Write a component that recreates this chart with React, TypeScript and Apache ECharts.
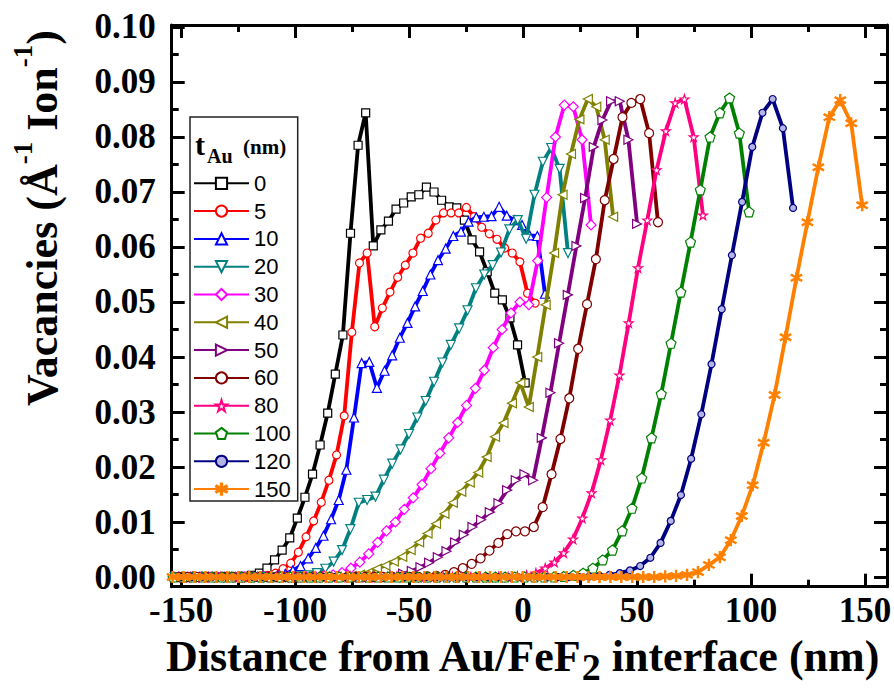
import React, { useEffect, useRef } from 'react';
import * as echarts from 'echarts';

// ---- data ----
const thicknessNames = ['0', '5', '10', '20', '30', '40', '50', '60', '80', '100', '120', '150'];

// first x (nm) and bin width (nm) of every profile
const xStarts = [-152.28, -152.15, -151.2, -152.8, -153.5, -152.9, -151.4, -150.9, -153.1, -153.4, -149.8, -153.7];
const xSteps = [3.33, 3.35, 3.35, 3.67, 3.9, 3.7, 3.8, 3.89, 4.07, 4.28, 4.47, 4.8];

const yT0 = [
  0, 0, 0, 0, 0, 0, 0, 0, 0,
  0.0001, 0.0003, 0.0007, 0.0016, 0.0031, 0.0049, 0.0071, 0.0107, 0.0145, 0.0187,
  0.0240, 0.0298, 0.0369, 0.0440, 0.0625, 0.0785, 0.0844, 0.0602, 0.0631, 0.0647,
  0.0669, 0.0680, 0.0691, 0.0695, 0.0709, 0.0700, 0.0685, 0.0673, 0.0671, 0.0649,
  0.0613, 0.0591, 0.0555, 0.0516, 0.0504, 0.0471, 0.0422, 0.0353,
];
const yT5 = [
  0, 0, 0, 0, 0, 0, 0, 0, 0, 0, 0,
  0.0001, 0.0003, 0.0007, 0.0015, 0.0025, 0.0045, 0.0073, 0.0102, 0.0136, 0.0176,
  0.0222, 0.0293, 0.0445, 0.0571, 0.0589, 0.0455, 0.0489, 0.0518, 0.0545, 0.0567,
  0.0589, 0.0616, 0.0625, 0.0649, 0.0662, 0.0662, 0.0662, 0.0672, 0.0655, 0.0636,
  0.0624, 0.0614, 0.0598, 0.0589, 0.0573, 0.0516, 0.0498,
];
const yT10 = [
  0, 0, 0, 0, 0, 0, 0, 0, 0, 0, 0, 0,
  0.0001, 0.0003, 0.0006, 0.0012, 0.0020, 0.0034, 0.0053, 0.0075, 0.0105, 0.0140,
  0.0195, 0.0290, 0.0389, 0.0391, 0.0344, 0.0375, 0.0403, 0.0435, 0.0462, 0.0492,
  0.0520, 0.0550, 0.0576, 0.0597, 0.0620, 0.0628, 0.0646, 0.0654, 0.0655, 0.0656,
  0.0673, 0.0657, 0.0649, 0.0640, 0.0621, 0.0620, 0.0515,
];
const yT20 = [
  0, 0, 0, 0, 0, 0, 0, 0, 0, 0, 0, 0, 0, 0, 0,
  0.0001, 0.0003, 0.0007, 0.0015, 0.0028, 0.0049, 0.0087, 0.0135, 0.0140, 0.0146,
  0.0177, 0.0206, 0.0232, 0.0260, 0.0290, 0.0320, 0.0355, 0.0390, 0.0422, 0.0452,
  0.0485, 0.0525, 0.0550, 0.0567, 0.0590, 0.0632, 0.0649, 0.0615, 0.0695, 0.0755,
  0.0780, 0.0742, 0.0589,
];
const yT30 = [
  0, 0, 0, 0, 0, 0, 0, 0, 0, 0, 0, 0, 0, 0, 0, 0,
  0.0001, 0.0002, 0.0004, 0.0008, 0.0016, 0.0027, 0.0042, 0.0063, 0.0084, 0.0100,
  0.0123, 0.0144, 0.0168, 0.0197, 0.0225, 0.0253, 0.0281, 0.0312, 0.0343, 0.0376,
  0.0417, 0.0450, 0.0480, 0.0500, 0.0495, 0.0575, 0.0690, 0.0800, 0.0858, 0.0855,
  0.0795, 0.0640,
];
const yT40 = [
  0, 0, 0, 0, 0, 0, 0, 0, 0, 0,
  0, 0, 0, 0, 0, 0, 0, 0, 0, 0,
  0.0001, 0.0002, 0.0004, 0.0008, 0.0015, 0.0021, 0.0028, 0.0037, 0.0049, 0.0063,
  0.0079, 0.0097, 0.0115, 0.0135, 0.0155, 0.0172, 0.0190, 0.0218, 0.0255, 0.0280,
  0.0316, 0.0353, 0.0309, 0.0400, 0.0495, 0.0589, 0.0695, 0.0769, 0.0832, 0.0869,
  0.0855, 0.0795, 0.0655,
];
const yT50 = [
  0, 0, 0, 0, 0, 0, 0, 0, 0, 0,
  0, 0, 0, 0, 0, 0, 0, 0, 0, 0,
  0, 0, 0, 0,
  0.0001, 0.0003, 0.0006, 0.0011, 0.0018, 0.0026, 0.0036, 0.0047, 0.0063, 0.0077,
  0.0091, 0.0104, 0.0118, 0.0134, 0.0158, 0.0176, 0.0187, 0.0176, 0.0253, 0.0335,
  0.0425, 0.0513, 0.0602, 0.0689, 0.0782, 0.0831, 0.0865, 0.0865, 0.0795, 0.0642,
];
const yT60 = [
  0, 0, 0, 0, 0, 0, 0, 0, 0, 0,
  0, 0, 0, 0, 0, 0, 0, 0, 0, 0,
  0, 0, 0, 0, 0, 0, 0, 0,
  0.0001, 0.0002, 0.0004, 0.0009, 0.0016, 0.0024, 0.0034, 0.0048, 0.0062, 0.0078,
  0.0083, 0.0083, 0.0091, 0.0127, 0.0187, 0.0251, 0.0325, 0.0415, 0.0496, 0.0578,
  0.0685, 0.0760, 0.0836, 0.0862, 0.0869, 0.0807, 0.0645,
];
const yT80 = [
  0, 0, 0, 0, 0, 0, 0, 0, 0, 0,
  0, 0, 0, 0, 0, 0, 0, 0, 0, 0,
  0, 0, 0, 0, 0, 0, 0, 0, 0, 0,
  0, 0, 0, 0, 0, 0, 0,
  0.0001, 0.0003, 0.0007, 0.0016, 0.0027, 0.0044, 0.0069, 0.0107, 0.0153, 0.0213,
  0.0285, 0.0367, 0.0462, 0.0562, 0.0649, 0.0740, 0.0811, 0.0862, 0.0869, 0.0800,
  0.0658,
];
const yT100 = [
  0, 0, 0, 0, 0, 0, 0, 0, 0, 0,
  0, 0, 0, 0, 0, 0, 0, 0, 0, 0,
  0, 0, 0, 0, 0, 0, 0, 0, 0, 0,
  0, 0, 0, 0, 0, 0, 0, 0, 0, 0,
  0.0001, 0.0003, 0.0007, 0.0016, 0.0031, 0.0049, 0.0084, 0.0125, 0.0180, 0.0253,
  0.0333, 0.0425, 0.0518, 0.0609, 0.0704, 0.0800, 0.0844, 0.0871, 0.0807, 0.0664,
];
const yT120 = [
  0, 0, 0, 0, 0, 0, 0, 0, 0, 0,
  0, 0, 0, 0, 0, 0, 0, 0, 0, 0,
  0, 0, 0, 0, 0, 0, 0, 0, 0, 0,
  0, 0, 0, 0, 0, 0, 0, 0, 0, 0,
  0.0001, 0.0002, 0.0004, 0.0007, 0.0012, 0.0020, 0.0035, 0.0062, 0.0102, 0.0149,
  0.0215, 0.0296, 0.0387, 0.0487, 0.0585, 0.0682, 0.0782, 0.0844, 0.0869, 0.0816,
  0.0671,
];
const yT150 = [
  0, 0, 0, 0, 0, 0, 0, 0, 0, 0,
  0, 0, 0, 0, 0, 0, 0, 0, 0, 0,
  0, 0, 0, 0, 0, 0, 0, 0, 0, 0,
  0, 0, 0, 0, 0, 0, 0, 0, 0, 0,
  0, 0, 0, 0, 0,
  0.0001, 0.0002, 0.0004, 0.0009, 0.0022, 0.0036, 0.0067, 0.0111, 0.0167, 0.0244,
  0.0331, 0.0436, 0.0544, 0.0645, 0.0745, 0.0836, 0.0867, 0.0825, 0.0676,
];
const yValues = [yT0, yT5, yT10, yT20, yT30, yT40, yT50, yT60, yT80, yT100, yT120, yT150];

// axis ticks / labels
const xMajorTicks = [-150, -100, -50, 0, 50, 100, 150];
const xMinorTicks = [-125, -75, -25, 25, 75, 125];
const yMajorTicks = [0, 0.01, 0.02, 0.03, 0.04, 0.05, 0.06, 0.07, 0.08, 0.09, 0.1];
const yMinorTicks = [0.005, 0.015, 0.025, 0.035, 0.045, 0.055, 0.065, 0.075, 0.085, 0.095];

// ---- styles ----
const X_MIN = -154.1;
const X_MAX = 159.6;
const Y_MIN = -0.00176;
const Y_MAX = 0.10036;

const lineColors = ['#000000', '#ff0000', '#0000ff', '#008080', '#ff00ff', '#808000',
  '#800080', '#800000', '#ff0080', '#008000', '#000080', '#ff8000'];
const STAR = 'path://M50,0L61,35L98,35L68,57L79,91L50,70L21,91L32,57L2,35L39,35Z';
const PENTA = 'path://M50,0L98,35L79,91L21,91L2,35Z';
const ASTER = 'path://M45,0H55V38L88,19L93,28L60,50L93,72L88,81L55,62V100H45V62L12,81L7,72L40,50L7,28L12,19L45,38Z';
const symbols = ['rect', 'circle', 'triangle', 'triangle', 'diamond', 'triangle', 'triangle', 'circle', STAR, PENTA, 'circle', ASTER];
const symbolRotations = [0, 0, 0, 180, 0, 90, -90, 0, 0, 0, 0, 0];
const symbolSizes = [8, 8, 9, 9, 10, 9, 9, 9, 9, 10, 7, 11];
const symbolFills = ['#fff', '#fff', '#fff', '#fff', '#fff', '#fff', '#fff', '#fff', '#fff', '#fff', '#b4b4e6', '#ff8000'];

const SERIF = '"Liberation Serif", "Times New Roman", serif';
const SANS = '"Liberation Sans", Arial, sans-serif';

function makeAxis(extra: any, min: number, max: number) {
  return {
    type: 'value',
    min,
    max,
    splitLine: { show: false },
    axisLine: { show: true, onZero: false, lineStyle: { color: '#000', width: 3 } },
    ...extra,
  };
}

export default function App() {
  const ref = useRef<HTMLDivElement>(null);

  useEffect(() => {
    if (!ref.current) return;
    const chart = echarts.init(ref.current, undefined, { renderer: 'svg' });

    const tickLine = { color: '#000', width: 3 };
    const labelFont = { fontFamily: SERIF, fontWeight: 'bold', fontSize: 35, color: '#000' };

    const xAxes = [
      makeAxis({
        position: 'bottom',
        axisTick: { show: true, inside: true, length: 13, lineStyle: tickLine, customValues: xMajorTicks },
        axisLabel: { show: true, margin: 6, ...labelFont, customValues: xMajorTicks, formatter: (v: number) => String(v) },
      }, X_MIN, X_MAX),
      makeAxis({
        position: 'bottom',
        axisLine: { show: false, onZero: false },
        axisTick: { show: true, inside: true, length: 7, lineStyle: tickLine, customValues: xMinorTicks },
        axisLabel: { show: false },
      }, X_MIN, X_MAX),
      makeAxis({
        position: 'top',
        axisTick: { show: true, inside: true, length: 13, lineStyle: tickLine, customValues: xMajorTicks },
        axisLabel: { show: false },
      }, X_MIN, X_MAX),
      makeAxis({
        position: 'top',
        axisLine: { show: false, onZero: false },
        axisTick: { show: true, inside: true, length: 7, lineStyle: tickLine, customValues: xMinorTicks },
        axisLabel: { show: false },
      }, X_MIN, X_MAX),
    ];
    const yAxes = [
      makeAxis({
        position: 'left',
        axisTick: { show: true, inside: true, length: 13, lineStyle: tickLine, customValues: yMajorTicks },
        axisLabel: { show: true, margin: 16, ...labelFont, customValues: yMajorTicks, formatter: (v: number) => v.toFixed(2) },
      }, Y_MIN, Y_MAX),
      makeAxis({
        position: 'left',
        axisLine: { show: false, onZero: false },
        axisTick: { show: true, inside: true, length: 7, lineStyle: tickLine, customValues: yMinorTicks },
        axisLabel: { show: false },
      }, Y_MIN, Y_MAX),
      makeAxis({
        position: 'right',
        axisTick: { show: true, inside: true, length: 13, lineStyle: tickLine, customValues: yMajorTicks },
        axisLabel: { show: false },
      }, Y_MIN, Y_MAX),
      makeAxis({
        position: 'right',
        axisLine: { show: false, onZero: false },
        axisTick: { show: true, inside: true, length: 7, lineStyle: tickLine, customValues: yMinorTicks },
        axisLabel: { show: false },
      }, Y_MIN, Y_MAX),
    ];

    const series = thicknessNames.map((name, i) => ({
      type: 'line',
      name,
      xAxisIndex: 0,
      yAxisIndex: 0,
      data: yValues[i].map((y, j) => [+(xStarts[i] + j * xSteps[i]).toFixed(2), y]),
      symbol: symbols[i],
      symbolSize: symbolSizes[i],
      symbolRotate: symbolRotations[i],
      showSymbol: true,
      showAllSymbol: true,
      lineStyle: { color: lineColors[i], width: 3.8 },
      itemStyle: { color: symbolFills[i], borderColor: lineColors[i], borderWidth: 1.2 },
      emphasis: { disabled: true },
      z: 2 + i,
    }));

    const titleMain = { fontFamily: SERIF, fontWeight: 'bold', fontSize: 44, fill: '#000' };

    chart.setOption({
      animation: false,
      backgroundColor: '#fff',
      textStyle: { fontFamily: SERIF },
      grid: { left: 171.7, right: 7, top: 25, bottom: 105.3, containLabel: false, outerBoundsMode: 'none' },
      xAxis: xAxes,
      yAxis: yAxes,
      legend: {
        orient: 'vertical',
        left: 190,
        top: 117,
        padding: [55.3, 7, 1, 3],
        itemWidth: 55,
        itemHeight: 14,
        itemGap: 5.8,
        borderColor: '#222',
        borderWidth: 1.5,
        backgroundColor: '#fff',
        selectedMode: false,
        textStyle: { fontFamily: SANS, fontSize: 22, color: '#000', lineHeight: 22 },
        data: thicknessNames,
      },
      tooltip: { show: false },
      series,
      graphic: [
        {
          type: 'text',
          x: 37,
          y: 218,
          rotation: Math.PI / 2,
          z: 100,
          style: {
            text: '{m|Vacancies (Å}{s|-1}{m| Ion}{s|-1}{m|)}',
            align: 'center',
            verticalAlign: 'middle',
            rich: {
              m: { ...titleMain, lineHeight: 55, verticalAlign: 'bottom' },
              s: { fontFamily: SERIF, fontWeight: 'bold', fontSize: 27, fill: '#000', lineHeight: 55, verticalAlign: 'top' },
            },
          },
        },
        {
          type: 'text',
          x: 522,
          y: 634,
          z: 100,
          style: {
            text: '{m|Distance from Au/FeF}{b|2}{m| interface (nm)}',
            align: 'center',
            verticalAlign: 'top',
            rich: {
              m: { ...titleMain, lineHeight: 53, verticalAlign: 'top' },
              b: { ...titleMain, fontSize: 38, height: 40, lineHeight: 53, verticalAlign: 'bottom' },
            },
          },
        },
        {
          type: 'text', x: 195, y: 144, z: 100,
          style: { text: 't', fontFamily: SERIF, fontWeight: 'bold', fontSize: 30, fill: '#000', align: 'left', verticalAlign: 'middle' },
        },
        {
          type: 'text', x: 207, y: 156, z: 100,
          style: { text: 'Au', fontFamily: SERIF, fontWeight: 'bold', fontSize: 20, fill: '#000', align: 'left', verticalAlign: 'middle' },
        },
        {
          type: 'text', x: 243, y: 147, z: 100,
          style: { text: '(nm)', fontFamily: SERIF, fontWeight: 'bold', fontSize: 21, fill: '#000', align: 'left', verticalAlign: 'middle' },
        },
      ],
    });

    return () => chart.dispose();
  }, []);

  return (
    <div
      ref={ref}
      style={{ position: 'absolute', left: 0, top: 0, width: 894, height: 692, background: '#fff' }}
    />
  );
}
